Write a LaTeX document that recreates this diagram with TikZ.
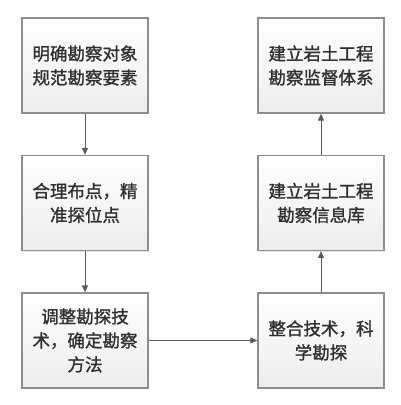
\documentclass[tikz,border=0pt]{standalone}
\usepackage{fontspec}
\setmainfont{Noto Sans CJK SC}
\newfontface\boxfont{Noto Sans CJK SC}[FakeBold=1.3]
\usetikzlibrary{arrows.meta,shadows}
\definecolor{boxline}{HTML}{8E8E8E}
\definecolor{txt}{HTML}{303030}
\definecolor{arr}{HTML}{5A5A5A}
\tikzset{
  flowbox/.style={draw=boxline, line width=1.3pt, top color=white, bottom color=black!7,
    minimum width=126pt, minimum height=95pt, inner sep=2pt, align=center,
    text=txt, font=\boxfont\fontsize{17.5pt}{24pt}\selectfont,
    drop shadow={shadow xshift=1pt, shadow yshift=-1pt, fill=black!15, opacity=0.6}},
  flowarrow/.style={draw=arr, line width=1pt, -{Triangle[length=7pt,width=6pt]}}
}
\begin{document}
\begin{tikzpicture}[x=1pt,y=-1pt]
\useasboundingbox (0,0) rectangle (400,405);
\node[flowbox] (l1) at (85,65.5) {明确勘察对象\\规范勘察要素};
\node[flowbox] (l2) at (85,203) {合理布点，精\\准探位点};
\node[flowbox] (l3) at (85,340.5) {调整勘探技\\术，确定勘察\\方法};
\node[flowbox] (r3) at (321,340.5) {整合技术，科\\学勘探};
\node[flowbox] (r2) at (321,203) {建立岩土工程\\勘察信息库};
\node[flowbox] (r1) at (321,65.5) {建立岩土工程\\勘察监督体系};
\draw[flowarrow] (l1) -- (l2);
\draw[flowarrow] (l2) -- (l3);
\draw[flowarrow] (l3) -- (r3);
\draw[flowarrow] (r3) -- (r2);
\draw[flowarrow] (r2) -- (r1);
\end{tikzpicture}
\end{document}
